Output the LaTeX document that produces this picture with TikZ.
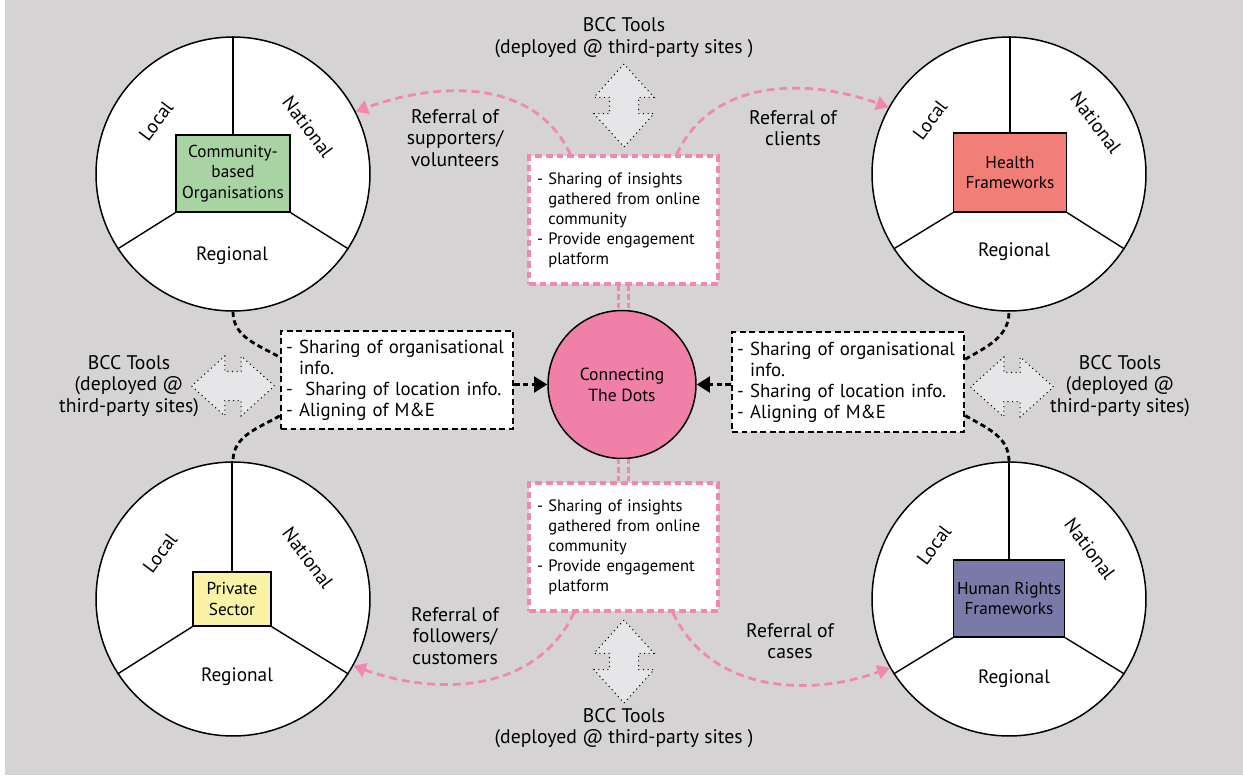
\documentclass[tikz,border=0pt]{standalone}
\usepackage{fontspec}
\setmainfont{PT Sans}
\usetikzlibrary{shapes.arrows,arrows.meta}

\definecolor{bg}{HTML}{D5D3D4}
\definecolor{pinkline}{HTML}{F088B2}
\definecolor{dotsfill}{HTML}{F080A8}
\definecolor{cbofill}{HTML}{A8D4A4}
\definecolor{hffill}{HTML}{F27E78}
\definecolor{psfill}{HTML}{F8F3A6}
\definecolor{hrfill}{HTML}{7A7AA8}
\definecolor{bccfill}{HTML}{E6E6E8}

\tikzset{
  ring/.style={circle,draw=black,fill=white,line width=0.85pt,minimum size=5.48cm,inner sep=0pt},
  org/.style={draw=black,line width=0.8pt,inner sep=0pt,align=center,font=\fontsize{9.8}{11.6}\selectfont},
  div/.style={draw=black,line width=0.8pt},
  lvl/.style={font=\fontsize{11}{13}\selectfont},
  lbl/.style={align=center,font=\fontsize{11.2}{12.2}\selectfont},
  info/.style={draw=black,fill=white,line width=1.5pt,dash pattern=on 3.4pt off 2pt,align=left,text width=4.44cm,inner xsep=0.1cm,minimum height=1.96cm,font=\fontsize{10.7}{12}\selectfont},
  share/.style={draw=pinkline,fill=white,line width=1.8pt,dash pattern=on 3.8pt off 2.3pt,align=left,text width=3.46cm,inner xsep=0.16cm,minimum height=2.56cm,font=\fontsize{9.4}{11.4}\selectfont},
  tools/.style={double arrow,draw=black,fill=bccfill,dotted,line width=0.6pt,minimum height=1.66cm,double arrow head extend=0.31cm,inner xsep=0pt,inner ysep=0.28cm,double arrow tip angle=84},
  link/.style={draw=black,line width=1.6pt,dash pattern=on 3pt off 2pt},
  feed/.style={link,-{Triangle[length=7.5pt,width=9pt]}},
  refer/.style={draw=pinkline,line width=1.6pt,dash pattern=on 4.5pt off 2.8pt,-{Triangle[length=7pt,width=8pt]}},
  tie/.style={draw=pinkline,line width=1.8pt,dash pattern=on 3pt off 2pt,double=bg,double distance=3.6pt}
}
\tikzstyle{every node}=[text=black]

\begin{document}
\begin{tikzpicture}[x=0.02cm,y=-0.02cm]
  % backdrop
  \fill[white] (0,0) rectangle (1243,778);
  \fill[bg] (5,0) rectangle (1243,775);

  % community-based organisations
  \node[ring] (CO) at (233,174) {};
  \node[org,fill=cbofill,minimum width=2.28cm,minimum height=1.54cm] (CBO) at (233,173.5) {Community-\\based\\Organisations};
  \draw[div] (CBO.north) -- (CBO.north |- CO.north);
  \draw[div] (CBO.south west) -- (CO.213);
  \draw[div] (CBO.south east) -- (CO.-33);
  \node[lvl,rotate=53] (COl) at (156,121) {Local};
  \node[lvl,rotate=-53] (COn) at (308,127) {National};
  \node[lvl] (COr) at (232,256) {Regional};

  % health frameworks
  \node[ring] (HE) at (1009,174) {};
  \node[org,fill=hffill,minimum width=2.26cm,minimum height=1.58cm] (HF) at (1010,172.5) {Health\\Frameworks};
  \draw[div] (HF.north) -- (HF.north |- HE.north);
  \draw[div] (HF.south west) -- (HE.213);
  \draw[div] (HF.south east) -- (HE.-33);
  \node[lvl,rotate=53] (HEl) at (930,120) {Local};
  \node[lvl,rotate=-53] (HEn) at (1096,123) {National};
  \node[lvl] (HEr) at (1014,252) {Regional};

  % private sector
  \node[ring] (PR) at (233,599) {};
  \node[org,fill=psfill,minimum width=1.56cm,minimum height=1.08cm] (PS) at (232,599) {Private\\Sector};
  \draw[div] (PS.north) -- (PS.north |- PR.north);
  \draw[div] (PS.south west) -- (PR.213);
  \draw[div] (PS.south east) -- (PR.-33);
  \node[lvl,rotate=53] (PRl) at (160,553) {Local};
  \node[lvl,rotate=-53] (PRn) at (308,558) {National};
  \node[lvl] (PRr) at (237,677) {Regional};

  % human rights frameworks
  \node[ring] (HU) at (1009,599) {};
  \node[org,fill=hrfill,minimum width=2.22cm,minimum height=1.54cm] (HRF) at (1009,598.5) {Human Rights\\Frameworks};
  \draw[div] (HRF.north) -- (HRF.north |- HU.north);
  \draw[div] (HRF.south west) -- (HU.213);
  \draw[div] (HRF.south east) -- (HU.-33);
  \node[lvl,rotate=53] (HUl) at (934,545) {Local};
  \node[lvl,rotate=-53] (HUn) at (1090,549) {National};
  \node[lvl] (HUr) at (1014,679) {Regional};

  % hub
  \node[circle,draw=black,fill=dotsfill,line width=0.85pt,minimum size=2.96cm,inner sep=0pt,align=center,font=\fontsize{10}{12}\selectfont] (CTD) at (622,384.5) {Connecting\\The Dots};

  \node[share] (ST) at (623.5,220) {- Sharing of insights\\\phantom{- }gathered from online\\\phantom{- }community\\- Provide engagement\\\phantom{- }platform};
  \node[share] (SB) at (623.5,547) {- Sharing of insights\\\phantom{- }gathered from online\\\phantom{- }community\\- Provide engagement\\\phantom{- }platform};
  \draw[tie] (ST.south) -- (ST.south |- CTD.north);
  \draw[tie] (SB.north) -- (SB.north |- CTD.south);

  \node[info] (IL) at (397,380) {- Sharing of organisational\\\phantom{- }info.\\-\ \ Sharing of location info.\\- Aligning of M\&E};
  \node[info,minimum height=2cm] (IR) at (848,382) {- Sharing of organisational\\\phantom{- }info.\\- Sharing of location info.\\- Aligning of M\&E};
  \draw[feed] (IL.east |- CTD.west) -- (CTD.west);
  \draw[feed] (IR.west |- CTD.east) -- (CTD.east);

  \draw[link] (CO.south) to[out=-90,in=150] (IL.169);
  \draw[link] (IL.197) to[out=210,in=90] (PR.north);
  \draw[link] (IR.11) to[out=30,in=-90] (HE.south);
  \draw[link] (IR.-16) to[out=-30,in=90] (HU.north);

  % BCC tools
  \node[tools,rotate=90] (TT) at (624,105.5) {};
  \node[tools,rotate=90] (TB) at (624,661.5) {};
  \node[tools] (TL) at (233,386) {};
  \node[tools] (TR) at (1012,387) {};
  \node[lbl] (TTl) at (624,37.5) {BCC Tools\\(deployed @ third-party sites )};
  \node[lbl] (TBl) at (624,728) {BCC Tools\\(deployed @ third-party sites )};
  \node[lbl] (TLl) at (129,386) {BCC Tools\\(deployed @\\third-party sites)};
  \node[lbl] (TRl) at (1120,386) {BCC Tools\\(deployed @\\third-party sites)};

  % referrals
  \draw[refer] (ST.129) to[out=115,in=20] (CO.27);
  \draw[refer] (ST.51) to[out=65,in=160] (HE.151.5);
  \draw[refer] (SB.-127) to[out=-115,in=-20] (PR.-29);
  \draw[refer] (SB.-53) to[out=-65,in=-160] (HU.-150);
  \node[lbl] (F1) at (455,138) {Referral of\\supporters/\\volunteers};
  \node[lbl] (F2) at (793,128) {Referral of\\clients};
  \node[lbl] (F3) at (455,636) {Referral of\\followers/\\customers};
  \node[lbl] (F4) at (790,641) {Referral of\\cases};
\end{tikzpicture}
\end{document}
